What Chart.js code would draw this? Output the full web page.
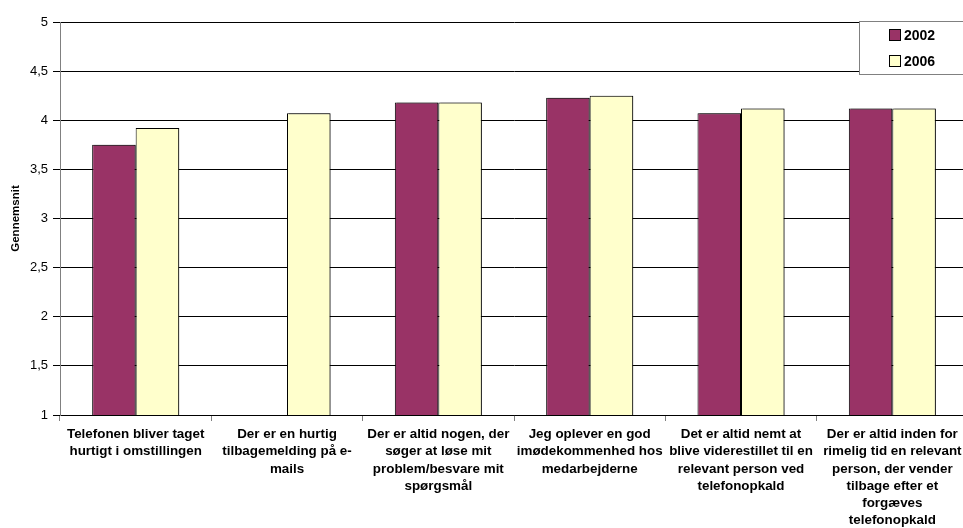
<!DOCTYPE html>
<html>
<head>
<meta charset="utf-8">
<script src="https://cdn.jsdelivr.net/npm/chart.js@4/dist/chart.umd.min.js"></script>
<style>
  html, body { margin: 0; padding: 0; background: #fff; overflow: hidden; }
  #wrap { position: relative; width: 975px; height: 528px; }
</style>
</head>
<body>
<div id="wrap"><canvas id="chart"></canvas></div>
<script>
// Kategorier (linjeskift som i originalen)
const categories = [
    ['Telefonen bliver taget', 'hurtigt i omstillingen'],
    ['Der er en hurtig', 'tilbagemelding på e-', 'mails'],
    ['Der er altid nogen, der', 'søger at løse mit', 'problem/besvare mit', 'spørgsmål'],
    ['Jeg oplever en god', 'imødekommenhed hos', 'medarbejderne'],
    ['Det er altid nemt at', 'blive viderestillet til en', 'relevant person ved', 'telefonopkald'],
    ['Der er altid inden for', 'rimelig tid en relevant', 'person, der vender', 'tilbage efter et', 'forgæves', 'telefonopkald']
];

// Gennemsnit pr. år
const values2002 = [3.75, null, 4.18, 4.23, 4.07, 4.12];
const values2006 = [3.92, 4.07, 4.18, 4.25, 4.12, 4.12];

const yTicks = [1, 1.5, 2, 2.5, 3, 3.5, 4, 4.5, 5];

// Skygge bag søjlerne
const barShadow = {
    id: 'barShadow',
    beforeDatasetsDraw(chart) {
        const ctx = chart.ctx;
        ctx.save();
        ctx.shadowColor = 'rgba(0,0,0,0.45)';
        ctx.shadowOffsetX = 2;
        ctx.shadowOffsetY = 0;
        ctx.shadowBlur = 0;
    },
    afterDatasetsDraw(chart) {
        chart.ctx.restore();
    }
};

// Forklaring i boks øverst til højre
const boxLegend = {
    id: 'boxLegend',
    afterDraw(chart) {
        const ctx = chart.ctx;
        const x = 859, y = 21, w = 120, h = 53;
        ctx.save();
        ctx.fillStyle = '#fff';
        ctx.fillRect(x, y, w, h);
        ctx.strokeStyle = '#808080';
        ctx.lineWidth = 1;
        ctx.strokeRect(x + 0.5, y + 0.5, w, h);
        ctx.font = 'bold 14px "Liberation Sans", Arial, sans-serif';
        ctx.textBaseline = 'middle';
        chart.data.datasets.forEach((ds, i) => {
            const cy = y + 14 + i * 26;
            ctx.fillStyle = ds.backgroundColor;
            ctx.fillRect(889.5, cy - 5.5, 11, 11);
            ctx.strokeStyle = '#000';
            ctx.strokeRect(889.5, cy - 5.5, 11, 11);
            ctx.fillStyle = '#000';
            ctx.fillText(ds.label, 904, cy + 1);
        });
        ctx.restore();
    }
};

const ctx = document.getElementById('chart').getContext('2d');
new Chart(ctx, {
    type: 'bar',
    data: {
        labels: categories,
        datasets: [{
            label: '2002',
            data: values2002,
            backgroundColor: '#993366',
            borderColor: '#000',
            borderWidth: 1
        }, {
            label: '2006',
            data: values2006,
            backgroundColor: '#FFFFCC',
            borderColor: '#000',
            borderWidth: 1
        }]
    },
    options: {
        responsive: true,
        maintainAspectRatio: false,
        animation: false,
        layout: { padding: { top: 22, right: 7, left: 0, bottom: 0 } },
        datasets: {
            bar: { categoryPercentage: 0.575, barPercentage: 1 }
        },
        plugins: {
            legend: { display: false },
            tooltip: { enabled: false }
        },
        scales: {
            x: {
                grid: {
                    offset: true,
                    drawOnChartArea: false,
                    color: '#808080',
                    tickLength: 6
                },
                border: { color: '#000' },
                ticks: {
                    maxRotation: 0,
                    autoSkip: false,
                    color: '#000',
                    padding: 5,
                    font: { family: '"Liberation Sans", Arial, sans-serif', size: 13.4, weight: 'bold', lineHeight: 1.28 }
                },
                afterFit(scale) { scale.height = 113; }
            },
            y: {
                min: 1,
                max: 5,
                afterBuildTicks(scale) { scale.ticks = yTicks.map(v => ({ value: v })); },
                grid: { color: '#000', tickLength: 7, tickColor: '#000' },
                border: { color: '#808080' },
                ticks: {
                    color: '#000',
                    padding: 5,
                    font: { family: '"Liberation Sans", Arial, sans-serif', size: 13 },
                    callback: v => String(v).replace('.', ',')
                },
                title: {
                    display: true,
                    text: 'Gennemsnit',
                    color: '#000',
                    padding: { top: 9, bottom: 4 },
                    font: { family: '"Liberation Sans", Arial, sans-serif', size: 11.5, weight: 'bold' }
                },
                afterFit(scale) { scale.width = 60; }
            }
        }
    },
    plugins: [barShadow, boxLegend]
});
</script>
</body>
</html>
